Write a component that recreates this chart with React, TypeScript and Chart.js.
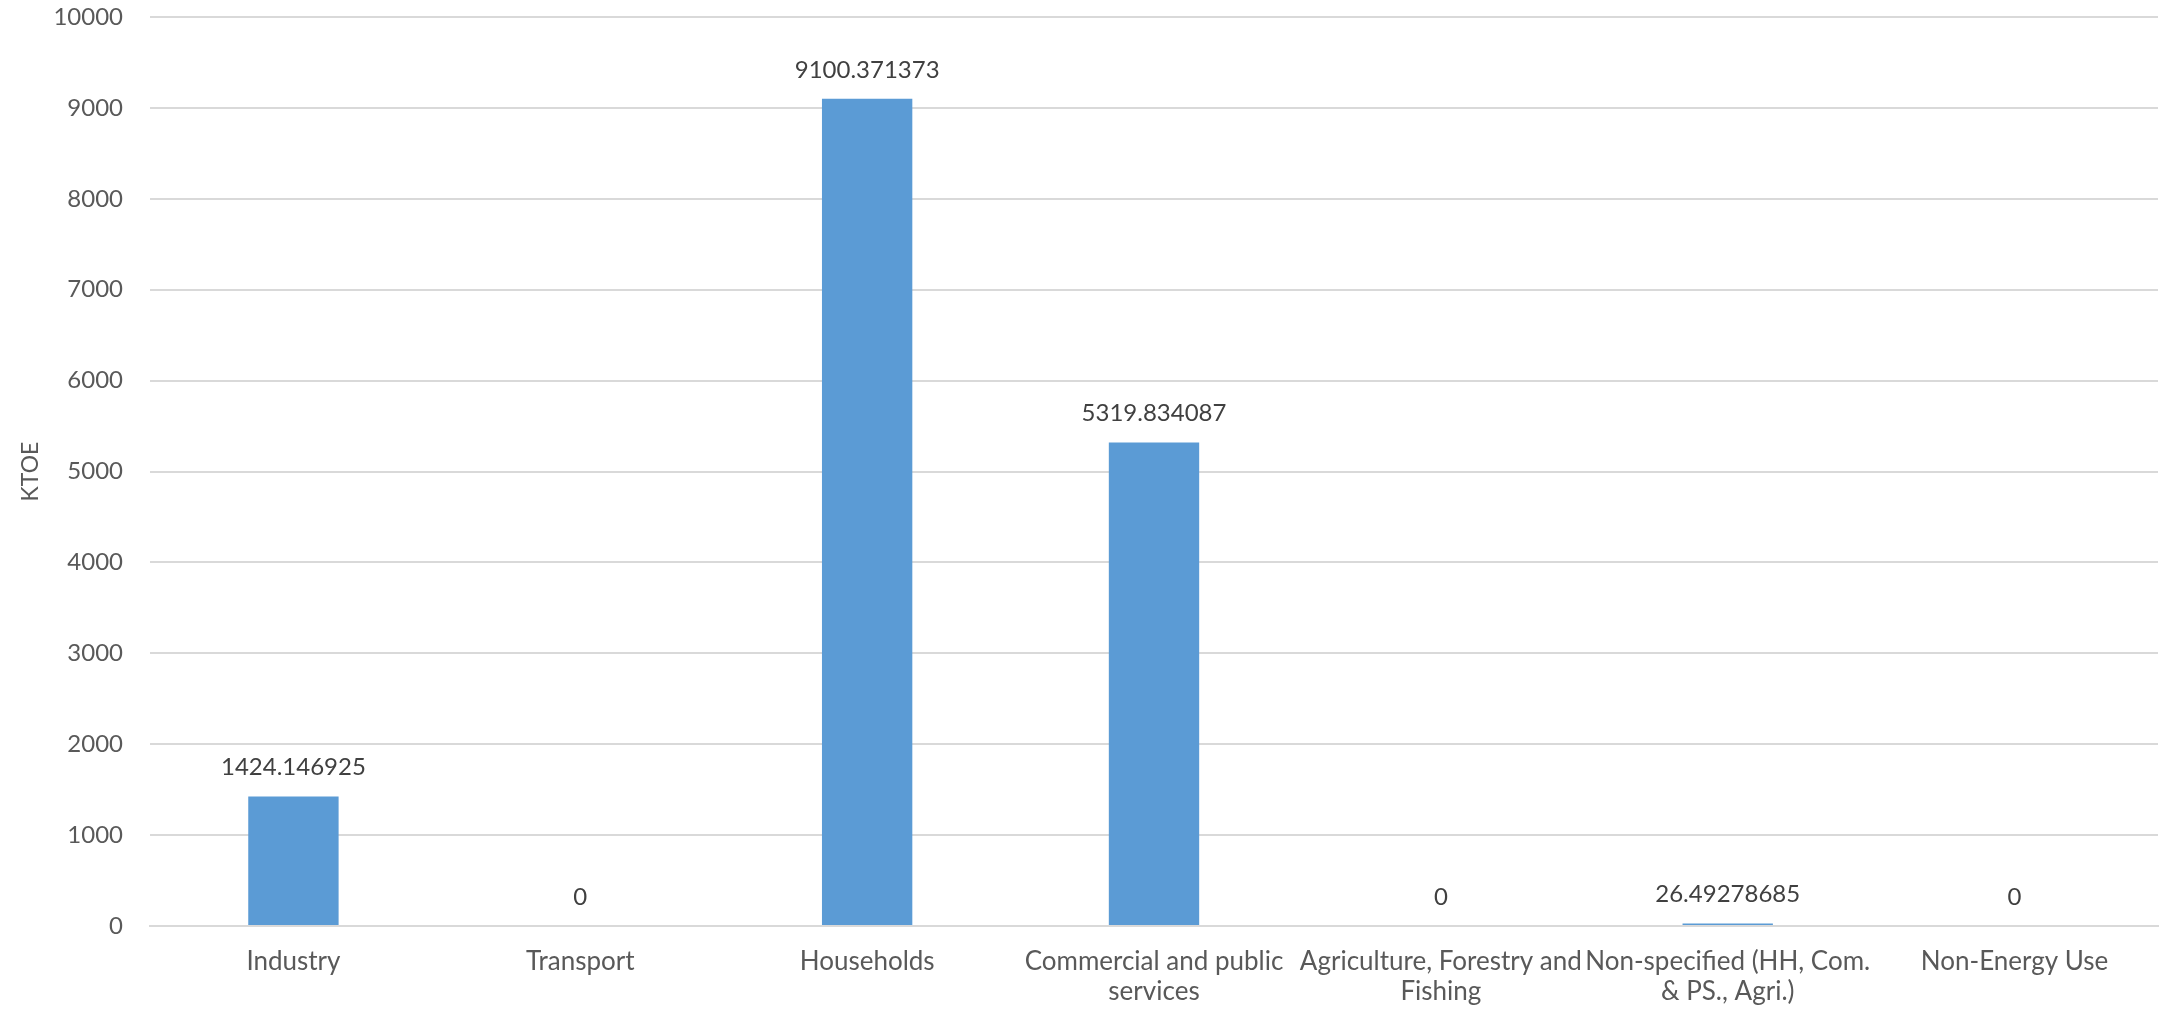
import React, { useEffect, useRef } from "react";
import { Chart, registerables } from "chart.js";

Chart.register(...registerables);

const categories: (string | string[])[] = [
  "Industry",
  "Transport",
  "Households",
  ["Commercial and public", "services"],
  ["Agriculture, Forestry and", "Fishing"],
  ["Non-specified (HH, Com.", "& PS., Agri.)"],
  "Non-Energy Use",
];
const values: number[] = [1424.146925, 0, 9100.371373, 5319.834087, 0, 26.49278685, 0];
const valueLabels: string[] = ["1424.146925", "0", "9100.371373", "5319.834087", "0", "26.49278685", "0"];
const yTicks: number[] = [0, 1000, 2000, 3000, 4000, 5000, 6000, 7000, 8000, 9000, 10000];

const FONT = "Lato, 'Noto Sans', sans-serif";

const labelPlugin = {
  id: "valueLabels",
  afterDatasetsDraw(chart: any) {
    const ctx = chart.ctx;
    const meta = chart.getDatasetMeta(0);
    ctx.save();
    ctx.font = `24px ${FONT}`;
    ctx.fillStyle = "#404040";
    ctx.textAlign = "center";
    ctx.textBaseline = "middle";
    meta.data.forEach((bar: any, i: number) => {
      ctx.fillText(valueLabels[i], bar.x, bar.y - 29);
    });
    ctx.restore();
  },
};

export default function App() {
  const ref = useRef<HTMLCanvasElement>(null);
  useEffect(() => {
    document.body.style.margin = "0";
    const chart = new Chart(ref.current!, {
      type: "bar",
      data: {
        labels: categories,
        datasets: [
          {
            data: values,
            backgroundColor: "#5B9BD5",
            borderWidth: 0,
            barPercentage: 0.63,
            categoryPercentage: 0.5,
          },
        ],
      },
      options: {
        responsive: false,
        animation: false,
        layout: { padding: { top: 17, right: 10, left: 0, bottom: 0 } },
        plugins: { legend: { display: false }, tooltip: { enabled: false } },
        scales: {
          x: {
            grid: { display: false, drawTicks: false },
            border: { display: true, color: "#d9d9d9", width: 2 },
            ticks: {
              color: "#595959",
              font: { family: FONT, size: 26, lineHeight: 1.15 },
              padding: 21,
              maxRotation: 0,
              autoSkip: false,
            },
            afterFit(scale: any) {
              scale.height = 88;
            },
          },
          y: {
            min: 0,
            max: 10000,
            afterBuildTicks(scale: any) {
              scale.ticks = yTicks.map((v) => ({ value: v }));
            },
            grid: {
              color: "#d9d9d9",
              lineWidth: 2,
              drawTicks: true,
              tickLength: 27,
              tickColor: "rgba(0,0,0,0)",
            },
            border: { display: false },
            ticks: {
              color: "#595959",
              font: { family: FONT, size: 24 },
              padding: 0,
              callback: (v: any) => String(v),
            },
            title: {
              display: true,
              text: "KTOE",
              color: "#595959",
              font: { family: FONT, size: 23 },
              padding: { top: 17, bottom: 0 },
            },
            afterFit(scale: any) {
              scale.width = 150;
            },
          },
        },
      },
      plugins: [labelPlugin],
    });
    return () => chart.destroy();
  }, []);
  return <canvas ref={ref} width={2168} height={1014} style={{ display: "block" }} />;
}
